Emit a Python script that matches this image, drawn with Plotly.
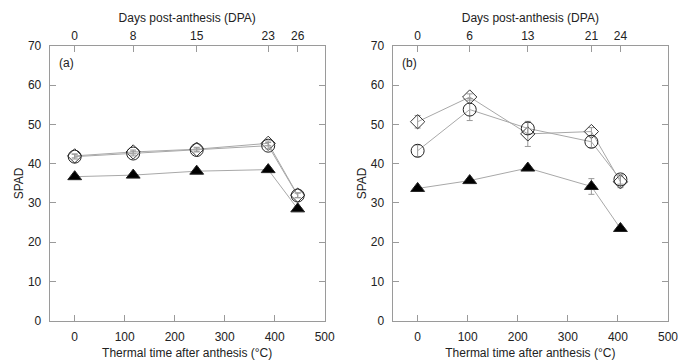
import plotly.graph_objects as go

# Panel (a)
a_tt = [0, 117, 244, 387, 446]
a_dpa = ["0", "8", "15", "23", "26"]
a_circle = [41.8, 42.6, 43.5, 44.6, 31.9]
a_circle_err = [0.6, 0.6, 0.5, 0.8, 0.6]
a_diamond = [42.0, 43.0, 43.7, 45.2, 32.0]
a_diamond_err = [0.5, 0.5, 0.5, 0.6, 0.6]
a_triangle = [36.7, 37.1, 38.1, 38.5, 28.5]
a_triangle_err = [0.4, 0.4, 0.4, 0.5, 0.5]

# Panel (b)
b_tt = [0, 104, 220, 347, 405]
b_dpa = ["0", "6", "13", "21", "24"]
b_circle = [43.3, 53.8, 49.0, 45.6, 36.0]
b_circle_err = [1.5, 2.8, 1.5, 1.5, 1.2]
b_diamond = [50.7, 57.0, 47.6, 48.2, 35.4]
b_diamond_err = [1.6, 0.8, 3.2, 1.0, 1.5]
b_triangle = [33.7, 35.7, 38.9, 34.2, 23.5]
b_triangle_err = [0.5, 0.5, 0.6, 2.0, 0.5]

x_ticks = [0, 100, 200, 300, 400, 500]
y_ticks = [0, 10, 20, 30, 40, 50, 60, 70]

FONT = "Liberation Sans, Arial, sans-serif"
LINE = "#a8a8a8"
AX = "#9a9a9a"
TXT = "#222222"

SIZES = {"diamond-open": 11, "circle-open": 13, "triangle-up": 12}

fig = go.Figure()


def add_series(x, y, err, symbol, fill, xa, ya):
    fig.add_trace(go.Scatter(
        x=x, y=y, xaxis=xa, yaxis=ya, mode="lines+markers",
        line=dict(color=LINE, width=1),
        error_y=dict(type="data", array=err, color="#999999", thickness=1, width=3),
        marker=dict(symbol=symbol, size=SIZES[symbol],
                    color=fill, line=dict(color="#222222", width=1)),
        showlegend=False, hoverinfo="skip"))


add_series(a_tt, a_diamond, a_diamond_err, "diamond-open", "#333333", "x", "y")
add_series(a_tt, a_circle, a_circle_err, "circle-open", "#222222", "x", "y")
add_series(a_tt, a_triangle, a_triangle_err, "triangle-up", "#000000", "x", "y")
add_series(b_tt, b_diamond, b_diamond_err, "diamond-open", "#333333", "x3", "y2")
add_series(b_tt, b_circle, b_circle_err, "circle-open", "#222222", "x3", "y2")
add_series(b_tt, b_triangle, b_triangle_err, "triangle-up", "#000000", "x3", "y2")

# invisible traces to activate the top axes
fig.add_trace(go.Scatter(x=a_tt, y=a_circle, xaxis="x2", yaxis="y", mode="markers",
                         marker=dict(opacity=0), showlegend=False, hoverinfo="skip"))
fig.add_trace(go.Scatter(x=b_tt, y=b_circle, xaxis="x4", yaxis="y2", mode="markers",
                         marker=dict(opacity=0), showlegend=False, hoverinfo="skip"))

W, H = 678, 360
ydom = [1 - 320.7 / H, 1 - 46 / H]
dom_a = [49.7 / W, 324.7 / W]
dom_b = [392.6 / W, 668 / W]

tickfont = dict(family=FONT, size=12, color=TXT)
titlefont = dict(family=FONT, size=12, color=TXT)

common_x = dict(range=[-50, 500], tickvals=x_ticks, ticks="inside", ticklen=6,
                tickcolor=AX, showline=True, linecolor=AX, linewidth=1,
                showgrid=False, zeroline=False, tickfont=tickfont, automargin=False,
                ticklabeloverflow="allow", ticklabelstandoff=5)
common_y = dict(range=[0, 70], tickvals=y_ticks, ticks="inside", ticklen=6,
                tickcolor=AX, showline=True, linecolor=AX, linewidth=1, mirror="ticks",
                showgrid=False, zeroline=False, tickfont=tickfont, automargin=False,
                ticklabelstandoff=5,
                title=dict(text="SPAD", font=titlefont, standoff=1))
top_x = dict(range=[-50, 500], ticks="inside", ticklen=6, side="top",
             tickcolor=AX, showline=True, linecolor=AX, linewidth=1,
             showgrid=False, zeroline=False, tickfont=tickfont, automargin=False,
             ticklabelstandoff=0,
             title=dict(text="Days post-anthesis (DPA)", font=titlefont, standoff=4))

fig.update_layout(
    width=W, height=H, margin=dict(l=0, r=0, t=0, b=0),
    paper_bgcolor="white", plot_bgcolor="white",
    font=dict(family=FONT, color=TXT),
    xaxis=dict(domain=dom_a, anchor="y",
               title=dict(text="Thermal time after anthesis (°C)", font=titlefont, standoff=8),
               **common_x),
    xaxis2=dict(overlaying="x", anchor="y", tickvals=a_tt, ticktext=a_dpa, **top_x),
    xaxis3=dict(domain=dom_b, anchor="y2",
                title=dict(text="Thermal time after anthesis (°C)", font=titlefont, standoff=8),
                **common_x),
    xaxis4=dict(overlaying="x3", anchor="y2", tickvals=b_tt, ticktext=b_dpa, **top_x),
    yaxis=dict(domain=ydom, anchor="x", **common_y),
    yaxis2=dict(domain=ydom, anchor="x3", **common_y),
    annotations=[
        dict(text="(a)", x=-36, y=65.7, xref="x", yref="y", showarrow=False,
             xanchor="left", font=dict(family=FONT, size=12, color=TXT)),
        dict(text="(b)", x=-36, y=65.7, xref="x3", yref="y2", showarrow=False,
             xanchor="left", font=dict(family=FONT, size=12, color=TXT)),
    ],
)

fig.write_html("out.html")
